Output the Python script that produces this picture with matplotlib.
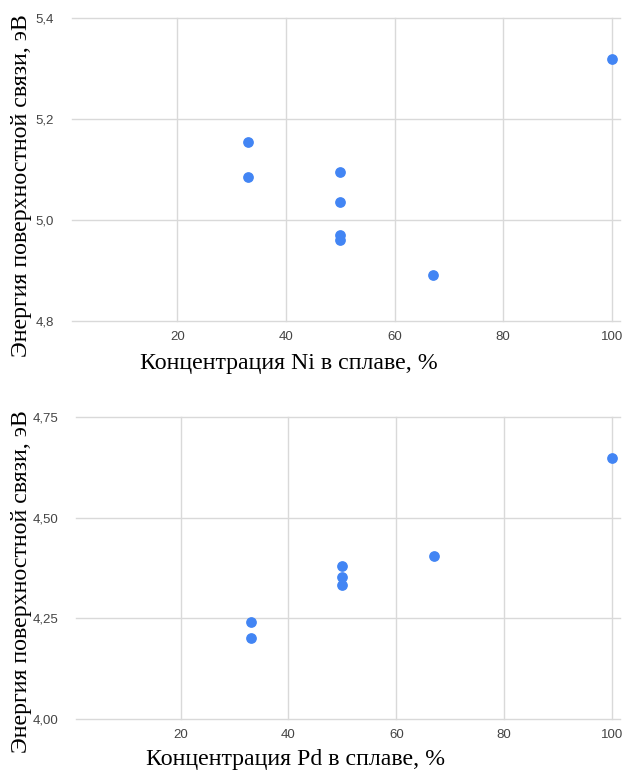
import matplotlib.pyplot as plt
from matplotlib.ticker import FuncFormatter

# Ni alloys
ni_conc = [33, 33, 50, 50, 50, 50, 67, 100]
ni_energy = [5.154, 5.085, 5.096, 5.036, 4.971, 4.961, 4.892, 5.319]
ni_yticks = [4.8, 5.0, 5.2, 5.4]

# Pd alloys
pd_conc = [33, 33, 50, 50, 50, 67, 100]
pd_energy = [4.242, 4.202, 4.381, 4.353, 4.334, 4.405, 4.649]
pd_yticks = [4.00, 4.25, 4.50, 4.75]

xticks = [20, 40, 60, 80, 100]
ylabel = 'Энергия поверхностной связи, эВ'

blue = '#4285F4'
grid_c = '#d9d9d9'
serif = ['Liberation Serif', 'DejaVu Serif']
sans = ['Liberation Sans', 'DejaVu Sans']

fig = plt.figure(figsize=(6.24, 7.73), dpi=100)
ax1 = fig.add_axes([72/624, 1-321/773, 548/624, 303/773])
ax2 = fig.add_axes([76/624, 1-719/773, 544/624, 302/773])


def style(ax, yticks, fmt):
    ax.set_xlim(0.6, 101.5)
    ax.set_ylim(yticks[0], yticks[-1])
    ax.set_xticks(xticks)
    ax.set_yticks(yticks)
    ax.yaxis.set_major_formatter(FuncFormatter(lambda v, p: (fmt % v).replace('.', ',')))
    ax.grid(True, color=grid_c, lw=1)
    ax.set_axisbelow(True)
    for gl in ax.get_xgridlines() + ax.get_ygridlines():
        gl.set_clip_on(False)
    for s in ax.spines.values():
        s.set_visible(False)
    ax.tick_params(length=0, labelsize=9.5, labelcolor='#444444')
    ax.tick_params(axis='y', pad=13)
    ax.tick_params(axis='x', pad=7)
    for lab in ax.get_xticklabels() + ax.get_yticklabels():
        lab.set_fontfamily(sans)


ax1.scatter(ni_conc, ni_energy, s=45, color=blue, clip_on=False, zorder=3)
style(ax1, ni_yticks, '%.1f')
ax2.scatter(pd_conc, pd_energy, s=45, color=blue, clip_on=False, zorder=3)
style(ax2, pd_yticks, '%.2f')

fig.text(289/624, 1-363/773, 'Концентрация Ni в сплаве, %', ha='center', va='center',
         fontsize=17.2, family=serif)
fig.text(296/624, 1-760/773, 'Концентрация Pd в сплаве, %', ha='center', va='center',
         fontsize=17.2, family=serif)
fig.text(22/624, 1-186/773, ylabel, rotation=90, ha='center', va='center',
         fontsize=17.2, family=serif)
fig.text(22/624, 1-582/773, ylabel, rotation=90, ha='center', va='center',
         fontsize=17.2, family=serif)

fig.savefig('out.png', dpi=100)
